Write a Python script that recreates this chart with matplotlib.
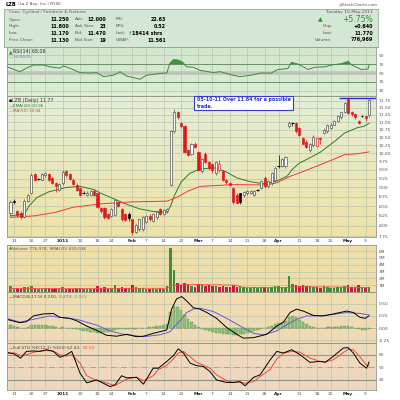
import numpy as np
import pandas as pd
import matplotlib
matplotlib.use("Agg")
import matplotlib.pyplot as plt
from matplotlib.patches import Rectangle

# ---- data ----
holidays = ["2010-12-24", "2011-01-17", "2011-02-21", "2011-04-22"]
days = pd.bdate_range("2010-12-10", "2011-05-10")
days = days[~days.isin(pd.to_datetime(holidays))]

open_ = [8.32, 8.64, 8.36, 8.33, 8.22, 8.64, 8.85, 9.38, 9.24, 9.22, 9.34, 9.38, 9.27, 9.13,
         8.92, 9.12, 9.46, 9.37, 9.22, 9.08, 8.98, 8.86, 8.80, 8.80, 8.90, 8.84, 8.46, 8.46,
         8.30, 8.25, 8.27, 8.60, 8.43, 8.30, 8.30, 8.16, 7.86, 7.92, 7.92, 8.10, 8.25, 8.13,
         8.22, 8.43, 8.30, 8.36, 9.08, 10.69, 11.34, 10.98, 10.86, 10.09, 9.98, 10.30, 10.03,
         9.46, 9.98, 9.72, 9.66, 9.41, 9.50, 9.46, 9.22, 9.12, 8.98, 8.80, 8.84, 8.79, 8.84,
         8.85, 8.80, 8.94, 8.98, 9.27, 9.03, 9.13, 9.22, 9.61, 9.61, 9.61, 10.86, 10.98, 10.98,
         10.81, 10.47, 10.36, 10.09, 10.25, 10.22, 10.48, 10.64, 10.69, 10.81, 10.92, 11.04,
         11.16, 11.34, 11.80, 11.34, 11.28, 11.04, 11.22, 11.20, 11.25]
high = [8.66, 8.68, 8.40, 8.36, 8.68, 8.82, 9.42, 9.42, 9.28, 9.40, 9.45, 9.40, 9.30, 9.15,
        9.12, 9.50, 9.50, 9.40, 9.26, 9.12, 9.00, 8.90, 8.90, 8.92, 8.95, 8.86, 8.48, 8.48,
        8.32, 8.45, 8.68, 8.62, 8.46, 8.33, 8.34, 8.18, 8.05, 8.18, 8.24, 8.28, 8.30, 8.33,
        8.36, 8.46, 8.42, 8.46, 10.75, 11.45, 11.40, 11.02, 10.90, 10.12, 10.33, 10.36, 10.06,
        9.85, 10.05, 9.76, 9.70, 9.76, 9.80, 9.50, 9.25, 9.15, 9.00, 8.84, 8.86, 8.90, 8.92,
        8.93, 8.92, 8.96, 9.20, 9.32, 9.22, 9.44, 9.60, 9.95, 9.85, 9.92, 11.05, 11.00, 11.00,
        10.85, 10.50, 10.40, 10.33, 10.56, 10.50, 10.50, 10.80, 10.95, 10.96, 11.06, 11.25,
        11.36, 11.72, 11.84, 11.40, 11.30, 11.08, 11.26, 11.22, 11.80]
low = [8.28, 8.55, 8.22, 8.18, 8.20, 8.60, 8.82, 9.18, 9.20, 9.20, 9.30, 9.18, 9.10, 8.88,
       8.90, 9.08, 9.30, 9.20, 9.06, 8.90, 8.76, 8.82, 8.76, 8.76, 8.76, 8.45, 8.32, 8.18,
       8.18, 8.22, 8.25, 8.48, 8.12, 8.12, 8.12, 7.77, 7.82, 7.88, 7.88, 8.06, 8.12, 8.10,
       8.18, 8.26, 8.27, 8.33, 9.05, 10.65, 11.10, 10.80, 10.00, 9.90, 9.95, 10.15, 9.48,
       9.40, 9.70, 9.50, 9.40, 9.35, 9.45, 9.18, 9.10, 9.03, 8.55, 8.55, 8.55, 8.75, 8.80,
       8.82, 8.78, 8.90, 8.95, 8.98, 8.98, 9.08, 9.18, 9.56, 9.58, 9.56, 10.80, 10.88, 10.65,
       10.55, 10.28, 10.15, 10.05, 10.20, 10.18, 10.30, 10.60, 10.65, 10.78, 10.90, 11.02,
       11.12, 11.30, 11.28, 11.20, 11.10, 10.95, 11.18, 11.05, 11.17]
close = [8.62, 8.62, 8.26, 8.22, 8.64, 8.79, 9.36, 9.22, 9.24, 9.38, 9.42, 9.22, 9.13, 9.03,
         9.10, 9.45, 9.36, 9.24, 9.10, 8.94, 8.80, 8.86, 8.86, 8.90, 8.80, 8.47, 8.36, 8.21,
         8.20, 8.43, 8.65, 8.50, 8.16, 8.15, 8.20, 7.85, 8.03, 8.16, 8.21, 8.25, 8.17, 8.30,
         8.34, 8.30, 8.39, 8.43, 10.69, 11.34, 11.16, 10.86, 10.03, 9.93, 10.30, 10.20, 9.51,
         9.82, 9.72, 9.56, 9.51, 9.72, 9.66, 9.22, 9.15, 9.08, 8.61, 8.58, 8.61, 8.88, 8.90,
         8.90, 8.90, 8.94, 9.18, 9.03, 9.18, 9.41, 9.56, 9.61, 9.82, 9.88, 10.98, 10.98, 10.69,
         10.58, 10.30, 10.20, 10.30, 10.52, 10.47, 10.45, 10.75, 10.92, 10.92, 11.04, 11.22,
         11.34, 11.68, 11.30, 11.28, 11.16, 10.98, 11.22, 11.13, 11.77]
volume_k = [850, 600, 550, 500, 800, 700, 900, 550, 450, 500, 600, 550, 500, 600, 450, 700,
            500, 450, 500, 550, 650, 400, 450, 400, 500, 900, 600, 700, 550, 650, 1000, 600,
            750, 600, 650, 1000, 700, 550, 650, 500, 450, 550, 500, 600, 500, 900, 6400, 3300,
            1300, 1100, 1300, 1200, 900, 800, 1200, 1150, 900, 1000, 850, 900, 700, 900, 750,
            700, 1000, 800, 900, 750, 600, 650, 700, 600, 800, 700, 650, 800, 900, 850, 750,
            800, 2300, 1200, 1100, 950, 1000, 900, 850, 800, 700, 650, 900, 800, 600, 650, 700,
            800, 900, 1100, 800, 750, 1000, 700, 650, 777]
macd_hist = [0.07, 0.05, 0.02, 0.0, 0.01, 0.03, 0.06, 0.07, 0.07, 0.06, 0.06, 0.05, 0.04, 0.02,
             0.01, 0.02, 0.01, -0.01, -0.02, -0.03, -0.05, -0.06, -0.07, -0.08, -0.09, -0.10,
             -0.10, -0.09, -0.08, -0.06, -0.04, -0.03, -0.03, -0.02, -0.02, -0.03, -0.02, -0.01,
             0.0, 0.01, 0.02, 0.03, 0.04, 0.05, 0.06, 0.08, 0.33, 0.46, 0.43, 0.37, 0.27, 0.18,
             0.12, 0.07, 0.02, -0.02, -0.05, -0.07, -0.09, -0.10, -0.11, -0.12, -0.13, -0.13,
             -0.14, -0.14, -0.13, -0.12, -0.10, -0.09, -0.07, -0.05, -0.03, -0.01, 0.02, 0.05,
             0.08, 0.10, 0.12, 0.15, 0.22, 0.25, 0.22, 0.17, 0.12, 0.08, 0.04, 0.02, 0.01, 0.0,
             0.01, 0.02, 0.02, 0.03, 0.03, 0.04, 0.05, 0.04, 0.02, 0.0, -0.03, -0.05, -0.04, -0.023]

# overlay lines, read at sample bars (bar number counted from Dec 10)
ema_at = [0, 4, 5.5, 7.5, 11, 16, 20, 24, 26, 29.5, 33, 37, 41, 45, 46, 47, 49, 51.5, 54.5,
          59, 62, 65, 69, 73, 76.5, 79.5, 81, 83, 86, 89, 93, 96, 99.5, 101.5, 103]
ema20 = [8.25, 8.30, 8.52, 8.72, 8.88, 9.00, 9.03, 8.94, 8.84, 8.70, 8.56, 8.43, 8.36, 8.34,
         8.50, 8.76, 9.15, 9.40, 9.53, 9.56, 9.44, 9.27, 9.16, 9.10, 9.18, 9.32, 9.52, 9.70,
         9.86, 10.03, 10.36, 10.64, 10.81, 10.86, 10.96]
ma_at = [0, 7, 13, 18, 26, 35, 45, 48, 51, 54.5, 64, 73.5, 76.5, 80.5, 83, 88, 93, 96, 99.5, 103]
ma50 = [8.21, 8.25, 8.34, 8.47, 8.56, 8.61, 8.63, 8.74, 8.90, 9.03, 9.08, 9.07, 9.13, 9.32,
        9.41, 9.61, 9.82, 9.96, 9.98, 10.04]
rsi_at = [-1, 2.7, 4.6, 6.6, 9.4, 11.3, 14.2, 15.2, 17, 20, 22.8, 24.8, 26.7, 29.5, 31.5, 33.4,
          35.3, 37.2, 39, 41, 43.9, 44.9, 45.8, 46.8, 48.2, 49.5, 50.6, 52.5, 54.5, 58.3, 60.2,
          64, 66, 69, 72, 74.9, 76.8, 79.7, 80.7, 82.6, 85.5, 87.4, 90.3, 92.2, 95.1, 97, 98,
          100.8, 102.7, 103]
rsi = [64, 53, 61, 68, 68, 64, 61, 66, 61, 51, 50, 51, 42, 45, 53, 43, 40, 36, 45, 47, 50,
       50, 72, 80, 79, 74, 64, 63, 56, 51, 53, 45, 42, 45, 50, 50, 58, 60, 74, 70, 58, 63, 64,
       68, 71, 76, 68, 58, 59, 68.06]
vsma_at = [0, 45, 46, 47, 51, 61, 65, 66, 71, 79, 81, 91, 100, 103]
vol_sma_m = [0.50, 0.55, 0.85, 1.0, 1.1, 1.05, 1.0, 0.72, 0.65, 0.62, 0.75, 0.75, 0.68, 0.66]
macd_at = [-0.6, 2.7, 4.6, 6.6, 9.4, 12.3, 14.2, 17, 19, 21.9, 24.8, 27.6, 30.5, 33.4, 36.2,
           38.2, 41, 43.9, 44.9, 46.3, 47.7, 49.2, 50.6, 52.5, 54.4, 56.4, 59.2, 62.1, 65, 66.9,
           69.8, 73.6, 76.5, 78.4, 80.3, 82.2, 84.1, 87, 89.9, 92.7, 96.6, 98.5, 100.4, 101.9, 103]
macd = [0.17, 0.11, 0.13, 0.25, 0.29, 0.30, 0.22, 0.20, 0.15, 0.04, -0.05, -0.15, -0.17, -0.13,
        -0.18, -0.17, -0.11, -0.06, -0.04, 0.39, 0.60, 0.65, 0.56, 0.42, 0.39, 0.32, 0.20, 0.01,
        -0.13, -0.21, -0.20, -0.13, 0.04, 0.12, 0.32, 0.39, 0.35, 0.26, 0.25, 0.29, 0.35, 0.32,
        0.22, 0.20, 0.25]
sig_at = [-0.6, 2.7, 6.6, 11.3, 14.2, 19, 24.8, 28.5, 32.4, 38.2, 43, 45.8, 48.7, 50.6, 52.5,
          54.4, 58.3, 62.1, 66, 69.8, 72.7, 76.5, 79.4, 82.2, 85.1, 89, 92.7, 96.6, 100.4, 103]
signal = [0.19, 0.12, 0.18, 0.25, 0.22, 0.18, 0.06, -0.06, -0.13, -0.18, -0.14, -0.08, 0.15,
          0.32, 0.39, 0.41, 0.34, 0.20, 0.04, -0.11, -0.14, -0.06, 0.07, 0.18, 0.25, 0.25,
          0.28, 0.32, 0.30, 0.273]
sto_at = [-0.6, 1, 2.9, 4.6, 6.6, 8.5, 10.4, 12.3, 14.2, 16.1, 17.6, 20, 21.9, 24.8, 26.7,
          28.6, 30, 31.9, 33.4, 36.2, 38.2, 41, 42.5, 44.9, 46.8, 48.2, 49.7, 51.6, 53.5, 55.4,
          57.3, 59.2, 62.1, 64, 65.9, 67.4, 69.8, 71.7, 74.6, 76.5, 78.4, 80.8, 83.2, 86, 89,
          90.4, 92.7, 95.6, 97, 98.5, 100.4, 102.3, 103]
sto_k = [85, 82, 72, 88, 89, 88, 92, 88, 74, 80, 88, 36, 13, 20, 12, 4, 8, 30, 25, 26, 10, 48,
         48, 64, 78, 94, 84, 60, 54, 52, 40, 20, 14, 14, 16, 6, 26, 32, 68, 88, 84, 92, 80, 62,
         64, 62, 76, 96, 97, 84, 60, 48, 62.43]
sto_d = [83, 85, 78, 80, 86, 89, 90, 89, 80, 77, 80, 60, 30, 18, 15, 10, 7, 15, 22, 27, 18, 30,
         45, 55, 70, 84, 88, 75, 62, 55, 48, 32, 18, 14, 15, 12, 16, 28, 45, 70, 84, 88, 86, 72,
         64, 63, 68, 85, 93, 92, 75, 55, 53.53]

tick_dates = ["2010-12-13", "2010-12-20", "2010-12-27", "2011-01-03", "2011-01-10", "2011-01-18",
              "2011-01-24", "2011-02-01", "2011-02-07", "2011-02-14", "2011-02-22", "2011-03-01",
              "2011-03-07", "2011-03-14", "2011-03-21", "2011-03-28", "2011-04-01", "2011-04-11",
              "2011-04-18", "2011-04-25", "2011-05-02", "2011-05-09"]
tick_labels = ["13", "20", "27", "2011", "10", "18", "24", "Feb", "7", "14", "22", "Mar", "7",
               "14", "21", "28", "Apr", "11", "18", "25", "May", "9"]
bold_labels = ["2011", "Feb", "Mar", "Apr", "May"]

price_ticks = [7.75, 8.0, 8.25, 8.5, 8.75, 9.0, 9.25, 9.5, 9.75, 10.0, 10.25, 10.5, 10.75,
               11.0, 11.25, 11.5, 11.75]
target = 11.84

# ---- layout ----
plt.rcParams["font.family"] = "DejaVu Sans"
fig = plt.figure(figsize=(4, 4), dpi=100)
fig.patch.set_facecolor("white")

x = np.arange(len(days))
tick_pos = days.get_indexer(pd.to_datetime(tick_dates))
up_day = np.r_[True, np.diff(close) >= 0]

LEFT, RIGHT = 7, 376
GRID = "#bcc3ae"
LABEL = "#555555"
TS = 3.2


def rect(top, bottom, left=LEFT, right=RIGHT):
    return [left / 400, 1 - bottom / 400, (right - left) / 400, (bottom - top) / 400]


def panel(top, bottom, c_top, c_bot):
    bg = fig.add_axes(rect(top, bottom), zorder=0)
    g = np.linspace(0, 1, 64)[:, None, None]
    a = np.array(matplotlib.colors.to_rgb(c_top))
    b = np.array(matplotlib.colors.to_rgb(c_bot))
    bg.imshow(a + (b - a) * g, aspect="auto", extent=[0, 1, 0, 1])
    bg.axis("off")
    ax = fig.add_axes(rect(top, bottom), zorder=1)
    ax.set_facecolor("none")
    ax.set_xlim(-1, 105)
    ax.set_xticks(tick_pos)
    ax.grid(True, axis="x", color=GRID, lw=0.5)
    ax.tick_params(length=0, labelsize=TS, colors=LABEL, pad=2)
    ax.yaxis.tick_right()
    ax.set_xticklabels([])
    for s in ax.spines.values():
        s.set_color("#8f9a88")
        s.set_linewidth(0.6)
    return ax


def date_labels(ax):
    ax.set_xticklabels(tick_labels)
    for t in ax.get_xticklabels():
        if t.get_text() in bold_labels:
            t.set_fontweight("bold")
            t.set_color("#222222")
    ax.tick_params(axis="x", pad=1.5)


def legend(ax, px, py, parts, size=3.4):
    prev = None
    for s, c in parts:
        if prev is None:
            prev = fig.text(px / 400, 1 - py / 400, s, color=c, fontsize=size, va="center",
                            zorder=6)
        else:
            prev = ax.annotate(s, xy=(1, 0), xycoords=prev, va="bottom", color=c,
                               fontsize=size, annotation_clip=False, zorder=6)


# header
fig.text(5 / 400, 1 - 4 / 400, "LZB", fontsize=3.6, fontweight="bold", va="center")
fig.text(18 / 400, 1 - 4 / 400, "(La Z Boy, Inc.) NYSE", fontsize=3.0, color=LABEL, va="center")
fig.text(378 / 400, 1 - 4 / 400, "@StockCharts.com", fontsize=3.0, color=LABEL, va="center",
         ha="right")

# info box
info = fig.add_axes(rect(9, 47, 4, 378))
info.set_facecolor("#d4e7d4")
info.set_xticks([])
info.set_yticks([])
for s in info.spines.values():
    s.set_color("#97b097")
    s.set_linewidth(0.6)
rows = [12.5, 19.5, 26.3, 33.1, 40]
fig.text(9 / 400, 1 - rows[0] / 400, "Cons. Cyclical / Furniture & Fixtures", fontsize=3.2,
         color=LABEL, va="center")
fig.text(373 / 400, 1 - rows[0] / 400, "Tuesday 10-May-2011", fontsize=3.2, color=LABEL,
         va="center", ha="right")
cols = [
    ("Open:", "11.250", "Ask:", "12.000", "P/E:", "22.63"),
    ("High:", "11.800", "Ask Size:", "23", "EPS:", "0.52"),
    ("Low:", "11.170", "Bid:", "11.470", "Last:", ""),
    ("Prev Close:", "11.130", "Bid Size:", "19", "VWAP:", "11.561"),
]
for r, (a1, v1, a2, v2, a3, v3) in zip(rows[1:], cols):
    yy = 1 - r / 400
    fig.text(9 / 400, yy, a1, fontsize=3.2, color=LABEL, va="center")
    fig.text(69 / 400, yy, v1, fontsize=3.5, fontweight="bold", va="center", ha="right")
    fig.text(75 / 400, yy, a2, fontsize=3.2, color=LABEL, va="center")
    fig.text(106 / 400, yy, v2, fontsize=3.5, fontweight="bold", va="center", ha="right")
    fig.text(116 / 400, yy, a3, fontsize=3.2, color=LABEL, va="center")
    fig.text(166 / 400, yy, v3, fontsize=3.5, fontweight="bold", va="center", ha="right")
fig.text(128 / 400, 1 - rows[3] / 400, "\u2191", fontsize=3.8, color="#2f8f2f", va="center",
         fontweight="bold")
fig.text(132 / 400, 1 - rows[3] / 400, "18414 shrs", fontsize=3.5, fontweight="bold",
         va="center")
fig.text(320 / 400, 1 - 20 / 400, "\u25b2", fontsize=4.5, color="#2f8f2f", va="center",
         ha="center")
fig.text(373 / 400, 1 - 20 / 400, "+5.75%", fontsize=5.6, color="#2f8f2f", va="center",
         ha="right")
for r, lab, val in [(rows[2], "Chg:", "+0.640"), (rows[3], "Last:", "11.770"),
                    (rows[4], "Volume:", "776,969")]:
    fig.text(333 / 400, 1 - r / 400, lab, fontsize=3.2, color=LABEL, va="center", ha="right")
    fig.text(373 / 400, 1 - r / 400, val, fontsize=3.5, fontweight="bold", va="center",
             ha="right")

# RSI panel
ax_r = panel(47, 96, "#d3e7cf", "#dcecd5")
ax_r.set_ylim(-1.5, 108.4)
ax_r.set_yticks([10, 30, 50, 70, 90])
ax_r.grid(True, axis="y", color=GRID, lw=0.5)
ax_r.axhline(50, color="#bfc6bc", lw=2.6, zorder=1)
ax_r.axhline(70, color="#6f8f6a", lw=0.7, zorder=2)
ax_r.axhline(30, color="#6f8f6a", lw=0.7, zorder=2)
ax_r.plot(rsi_at, rsi, color="#3d8a3d", lw=0.7, zorder=3)
rsi_arr = np.array(rsi)
ax_r.fill_between(rsi_at, rsi_arr, 70, where=rsi_arr > 70, interpolate=True, color="#3f9440",
                  lw=0, zorder=3)
legend(ax_r, 9, 52, [("\u25b2", "#2f8f2f"), ("RSI(14) 68.06", "#333333")])
legend(ax_r, 9, 57, [("\u2014", "#4466cc"), ("HL(50.0)", "#4466cc")], size=3.0)

# price panel
ax_p = panel(96, 237, "#e3eed8", "#efe2a6")
ax_p.set_yscale("log")
ax_p.set_ylim(7.73, 11.92)
ax_p.set_yticks(price_ticks)
ax_p.set_yticks([], minor=True)
ax_p.set_yticklabels(["%.2f" % t for t in price_ticks])
ax_p.grid(True, axis="y", color=GRID, lw=0.5)
date_labels(ax_p)
for i in range(len(x)):
    o, c = open_[i], close[i]
    col = "black" if up_day[i] else "#e0161b"
    hollow = c > o
    ax_p.vlines(x[i], low[i], high[i], color="#555555" if hollow else col, lw=0.5, zorder=3)
    lo, hi = min(o, c), max(o, c)
    if hi - lo < 0.02:
        ax_p.hlines(o, x[i] - 0.4, x[i] + 0.4, color=col, lw=0.8, zorder=4)
        continue
    edge = ("#444444" if up_day[i] else "#e0161b") if hollow else col
    ax_p.add_patch(Rectangle((x[i] - 0.3, lo), 0.6, hi - lo,
                             facecolor="white" if hollow else col, edgecolor=edge,
                             lw=0.45, zorder=4))
ax_p.plot(ema_at, ema20, color="#2b7b2b", lw=0.7, zorder=2)
ax_p.plot(ma_at, ma50, color="#f03a3a", lw=0.7, zorder=2)
ax_p.hlines(target, 94.5, 105, color="#2b2bdc", lw=1.0, zorder=5)
legend(ax_p, 9, 100.5, [("\u25aa", "black"), ("LZB (Daily) 11.77", "#333333")])
legend(ax_p, 9, 106, [("\u2014", "#2b7b2b"), ("EMA(20) 10.96", "#2b7b2b")], size=3.0)
legend(ax_p, 9, 111, [("\u2014", "#f03a3a"), ("MA(50) 10.04", "#f03a3a")], size=3.0)
fig.patches.append(Rectangle((194 / 400, 1 - 110 / 400), 99 / 400, 14 / 400,
                             transform=fig.transFigure, facecolor="white", edgecolor="#3a3ad0",
                             lw=0.8, zorder=5))
fig.text(197 / 400, 1 - 100 / 400, "05-10-11 Over 11.84 for a possible", fontsize=3.4,
         fontweight="bold", color="#1f2fe0", va="center", zorder=6)
fig.text(197 / 400, 1 - 106.5 / 400, "trade.", fontsize=3.4, fontweight="bold",
         color="#1f2fe0", va="center", zorder=6)

# volume panel
ax_v = panel(245, 292, "#eee0aa", "#efdea6")
ax_v.set_ylim(0, 6.9)
ax_v.set_yticks([1, 2, 3, 4, 5, 6])
ax_v.set_yticklabels(["1M", "2M", "3M", "4M", "5M", "6M"])
ax_v.grid(True, axis="y", color=GRID, lw=0.5)
vcol = ["#3f8f3a" if u else "#cc1a45" for u in up_day]
ax_v.bar(x, np.array(volume_k) / 1000, width=0.72, color=vcol, lw=0, zorder=3)
ax_v.plot(vsma_at, vol_sma_m, color="#f05050", lw=0.6, zorder=4)
legend(ax_v, 9, 248.5, [("\u25b2", "#2f8f2f"), ("Volume 776,97K, SMA(20) 659.03K", "#555555")],
       size=3.1)

# MACD panel
ax_m = panel(292, 343, "#efdeb0", "#f0dab6")
ax_m.set_ylim(-0.31, 0.744)
ax_m.set_yticks([-0.25, 0, 0.25, 0.5])
ax_m.set_yticklabels(["-0.25", "0.00", "0.25", "0.50"])
ax_m.grid(True, axis="y", color=GRID, lw=0.5)
ax_m.axhline(0, color="#9aa08a", lw=0.5, ls="-.", zorder=2)
ax_m.bar(x, macd_hist, width=0.75, color="#8fc07a", edgecolor="#5f9a55", lw=0.3, zorder=3)
ax_m.plot(sig_at, signal, color="#6a5ad8", lw=0.7, zorder=4)
ax_m.plot(macd_at, macd, color="black", lw=0.7, zorder=5)
legend(ax_m, 9, 297, [("\u2014", "black"), ("MACD(8,17,9) 0.250, ", "#444444"),
                      ("0.273, ", "#5a4ad0"), ("-0.023", "#5faa4a")], size=3.1)

# stochastic panel
ax_s = panel(343, 390, "#f0dabb", "#efd6c2")
ax_s.set_ylim(-4, 108)
ax_s.set_yticks([20, 50, 80])
ax_s.axhline(80, color="#8d9b85", lw=0.8, zorder=2)
ax_s.axhline(20, color="#8d9b85", lw=0.8, zorder=2)
ax_s.axhline(50, color="#a8a596", lw=0.7, ls="-.", zorder=2)
ax_s.plot(sto_at, sto_d, color="#f04a3a", lw=0.7, zorder=3)
ax_s.plot(sto_at, sto_k, color="black", lw=0.7, zorder=4)
date_labels(ax_s)
legend(ax_s, 9, 348, [("\u2014", "black"), ("Full STO %K(12,3) %D(3) 62.43, ", "#444444"),
                      ("53.53", "#f04a3a")], size=3.1)

fig.savefig("out.png", dpi=100)
